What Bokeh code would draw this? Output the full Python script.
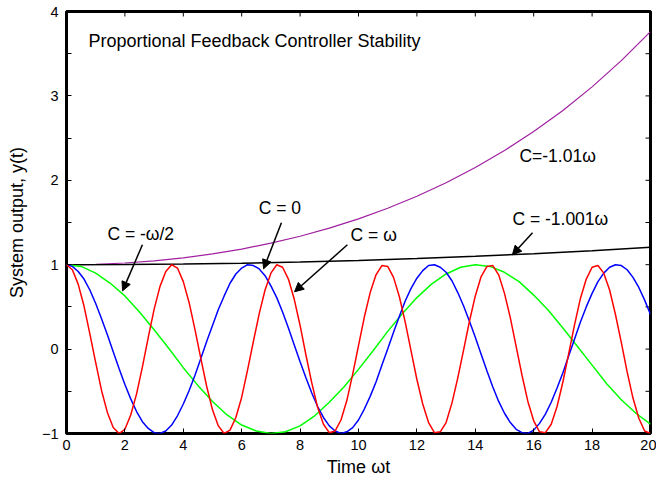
from bokeh.plotting import figure
from bokeh.models import FixedTicker, Label, Arrow, NormalHead, Range1d
from bokeh.embed import file_html
from bokeh.resources import INLINE

# ---------------- data ----------------
# fine sampling grid (step 0.2) for the fast oscillations
T_FINE = [round(i * 0.2, 1) for i in range(101)]
# C = omega (red)
Y_C_OMEGA = [1.00, 0.94, 0.77, 0.51, 0.18, -0.16, -0.49, -0.75, -0.93, -1.00,
             -0.95, -0.78, -0.53, -0.21, 0.14, 0.47, 0.74, 0.92, 1.00, 0.96,
             0.80, 0.55, 0.23, -0.11, -0.44, -0.72, -0.91, -1.00, -0.96, -0.81,
             -0.57, -0.25, 0.09, 0.42, 0.70, 0.90, 1.00, 0.97, 0.83, 0.59,
             0.28, -0.07, -0.40, -0.69, -0.89, -0.99, -0.97, -0.84, -0.61, -0.30,
             0.04, 0.38, 0.67, 0.88, 0.99, 0.98, 0.85, 0.62, 0.32, -0.02,
             -0.36, -0.65, -0.87, -0.99, -0.98, -0.87, -0.64, -0.34, -0.01, 0.33,
             0.63, 0.86, 0.98, 0.99, 0.88, 0.66, 0.37, 0.03, -0.31, -0.62,
             -0.85, -0.98, -0.99, -0.89, -0.68, -0.39, -0.05, 0.29, 0.60, 0.83,
             0.97, 0.99, 0.90, 0.70, 0.41, 0.08, -0.27, -0.58, -0.82, -0.97,
             -1.00]
# C = 0 (blue)
Y_C_ZERO = [1.00, 0.98, 0.92, 0.83, 0.70, 0.54, 0.36, 0.17, -0.03, -0.23,
            -0.42, -0.59, -0.74, -0.86, -0.94, -0.99, -1.00, -0.97, -0.90, -0.79,
            -0.65, -0.49, -0.31, -0.11, 0.09, 0.28, 0.47, 0.63, 0.78, 0.89,
            0.96, 1.00, 0.99, 0.95, 0.87, 0.75, 0.61, 0.44, 0.25, 0.05,
            -0.15, -0.34, -0.52, -0.68, -0.81, -0.91, -0.97, -1.00, -0.98, -0.93,
            -0.84, -0.71, -0.56, -0.39, -0.19, 0.00, 0.20, 0.39, 0.57, 0.72,
            0.84, 0.93, 0.99, 1.00, 0.97, 0.91, 0.81, 0.67, 0.51, 0.33,
            0.14, -0.06, -0.26, -0.45, -0.62, -0.76, -0.87, -0.95, -0.99, -1.00,
            -0.96, -0.88, -0.77, -0.63, -0.46, -0.28, -0.08, 0.12, 0.32, 0.50,
            0.66, 0.80, 0.90, 0.97, 1.00, 0.99, 0.94, 0.85, 0.73, 0.58,
            0.41]
# C = -omega/2 (green), step 0.5
T_HALF = [i * 0.5 for i in range(41)]
Y_C_HALF = [1.00, 0.98, 0.90, 0.78, 0.63, 0.44, 0.23, 0.01, -0.22, -0.43,
            -0.62, -0.78, -0.90, -0.97, -1.00, -0.98, -0.91, -0.79, -0.63, -0.45,
            -0.24, -0.02, 0.21, 0.42, 0.61, 0.77, 0.89, 0.97, 1.00, 0.98,
            0.91, 0.80, 0.64, 0.46, 0.25, 0.03, -0.19, -0.41, -0.60, -0.76,
            -0.89]
# C = -1.01 omega (purple), step 1
T_ONE = list(range(21))
Y_C_101 = [1.000, 1.005, 1.020, 1.045, 1.081, 1.128, 1.185, 1.255, 1.337, 1.433,
           1.543, 1.669, 1.811, 1.971, 2.151, 2.352, 2.577, 2.828, 3.107, 3.418,
           3.762]
# C = -1.001 omega (black), step 2
T_TWO = list(range(0, 21, 2))
Y_C_1001 = [1.000, 1.002, 1.008, 1.018, 1.032, 1.050, 1.073, 1.099, 1.131, 1.166, 1.207]

X_TICKS = [0, 2, 4, 6, 8, 10, 12, 14, 16, 18, 20]
Y_TICKS = [-1, 0, 1, 2, 3, 4]
Y_MINOR = [-0.5, 0.5, 1.5, 2.5, 3.5]

TITLE = "Proportional Feedback Controller Stability"
X_LABEL = "Time \u03c9t"
Y_LABEL = "System output, y(t)"

FONT = "Liberation Sans"
X0, X1, Y0, Y1 = 0, 20, -1, 4

p = figure(width=656, height=480, x_range=Range1d(X0, X1), y_range=Range1d(Y0, Y1),
           output_backend="svg", toolbar_location=None,
           min_border_left=66, min_border_top=11, min_border_right=6, min_border_bottom=47)
p.xgrid.visible = False
p.ygrid.visible = False
p.outline_line_color = "black"
p.outline_line_width = 3
p.outline_line_alpha = 1.0
p.background_fill_color = "white"
p.border_fill_color = "white"

xb = p.below[0]
yl = p.left[0]
xb.ticker = FixedTicker(ticks=X_TICKS)
yl.ticker = FixedTicker(ticks=Y_TICKS, minor_ticks=Y_MINOR)
xb.axis_label = X_LABEL
yl.axis_label = Y_LABEL

for ax in [xb, yl]:
    ax.axis_line_color = None
    ax.major_tick_in = 5
    ax.major_tick_out = 0
    ax.minor_tick_in = 5
    ax.minor_tick_out = 0
    ax.major_tick_line_color = "black"
    ax.minor_tick_line_color = "black"
    ax.major_tick_line_width = 1
    ax.minor_tick_line_width = 1
    ax.major_label_text_font = FONT
    ax.major_label_text_font_size = "14.5px"
    ax.major_label_text_color = "black"
    ax.axis_label_text_font = FONT
    ax.axis_label_text_font_size = "18px"
    ax.axis_label_text_font_style = "normal"
    ax.axis_label_text_color = "black"
xb.major_label_standoff = 6
yl.major_label_standoff = 8
xb.axis_label_standoff = 4
yl.axis_label_standoff = 12

# inward ticks on the top and right edges (tick length ~5 px in data units)
TX = 5 * (X1 - X0) / 584.0
TY = 5 * (Y1 - Y0) / 421.0
p.segment(x0=X_TICKS, y0=[Y1] * len(X_TICKS), x1=X_TICKS, y1=[Y1 - TY] * len(X_TICKS),
          line_color="black", line_width=1)
RY = Y_TICKS + Y_MINOR
p.segment(x0=[X1] * len(RY), y0=RY, x1=[X1 - TX] * len(RY), y1=RY,
          line_color="black", line_width=1)

p.line(T_ONE, Y_C_101, line_color="#a020a0", line_width=1.2)
p.line(T_TWO, Y_C_1001, line_color="black", line_width=1.5)
p.line(T_HALF, Y_C_HALF, line_color="#00ff00", line_width=1.5)
p.line(T_FINE, Y_C_ZERO, line_color="#0000ff", line_width=1.5)
p.line(T_FINE, Y_C_OMEGA, line_color="#ff0000", line_width=1.5)

def lab(x, y, text, size="17.5px"):
    p.add_layout(Label(x=x, y=y, text=text, text_font=FONT, text_font_size=size,
                       text_baseline="middle", text_align="left", text_color="black"))

lab(0.75, 3.656, TITLE, size="18px")
lab(1.40, 1.367, "C = -\u03c9/2")
lab(6.58, 1.675, "C = 0")
lab(9.73, 1.355, "C = \u03c9")
lab(15.27, 1.545, "C = -1.001\u03c9")
lab(15.51, 2.29, "C=-1.01\u03c9")

def arr(x0, y0, x1, y1):
    p.add_layout(Arrow(x_start=x0, y_start=y0, x_end=x1, y_end=y1, line_width=1.5,
                       line_color="black",
                       end=NormalHead(size=9, fill_color="black", line_color="black")))

arr(2.60, 1.236, 1.92, 0.690)
arr(7.36, 1.497, 6.75, 0.951)
arr(9.62, 1.236, 7.81, 0.679)
arr(15.96, 1.378, 15.27, 1.117)

open("out.html", "w").write(file_html(p, INLINE))
